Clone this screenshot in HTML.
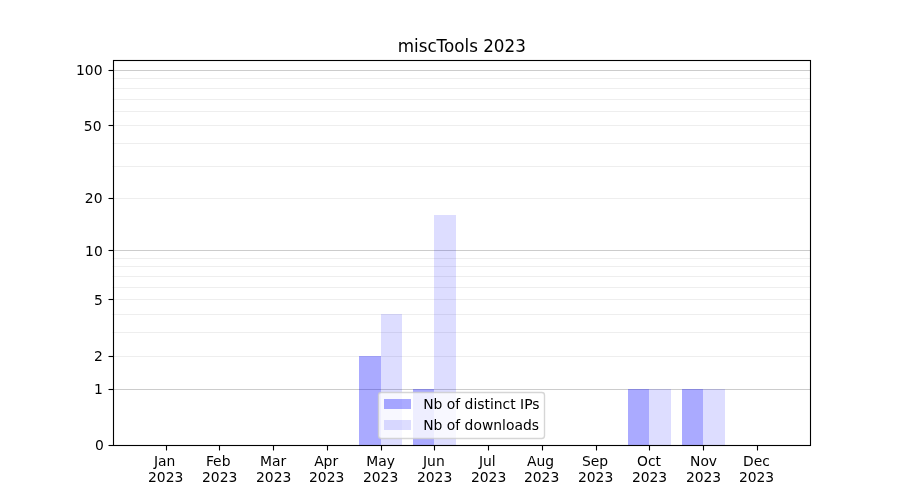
<!DOCTYPE html>
<html lang="en"><head><meta charset="utf-8"><title>miscTools 2023</title>
<style>
html,body{margin:0;padding:0;background:#fff;}
body{width:900px;height:500px;overflow:hidden;}
svg{display:block;}
text{font-family:"DejaVu Sans", "Liberation Sans", sans-serif;fill:#000;}
.t{font-size:13.889px;}
.h{font-size:16.750px;}
</style></head><body>
<svg width="900" height="500" viewBox="0 0 900 500">
<rect x="0" y="0" width="900" height="500" fill="#ffffff"/>
<g stroke-width="1.111" fill="none">
<line x1="112.5" x2="810" y1="70.5" y2="70.5" stroke="#cccccc"/>
<line x1="112.5" x2="810" y1="78.5" y2="78.5" stroke="#eeeeee"/>
<line x1="112.5" x2="810" y1="88.5" y2="88.5" stroke="#eeeeee"/>
<line x1="112.5" x2="810" y1="99.5" y2="99.5" stroke="#eeeeee"/>
<line x1="112.5" x2="810" y1="111.5" y2="111.5" stroke="#eeeeee"/>
<line x1="112.5" x2="810" y1="125.5" y2="125.5" stroke="#eeeeee"/>
<line x1="112.5" x2="810" y1="143.5" y2="143.5" stroke="#eeeeee"/>
<line x1="112.5" x2="810" y1="166.5" y2="166.5" stroke="#eeeeee"/>
<line x1="112.5" x2="810" y1="198.5" y2="198.5" stroke="#eeeeee"/>
<line x1="112.5" x2="810" y1="250.5" y2="250.5" stroke="#cccccc"/>
<line x1="112.5" x2="810" y1="258.5" y2="258.5" stroke="#eeeeee"/>
<line x1="112.5" x2="810" y1="266.5" y2="266.5" stroke="#eeeeee"/>
<line x1="112.5" x2="810" y1="276.5" y2="276.5" stroke="#eeeeee"/>
<line x1="112.5" x2="810" y1="287.5" y2="287.5" stroke="#eeeeee"/>
<line x1="112.5" x2="810" y1="299.5" y2="299.5" stroke="#eeeeee"/>
<line x1="112.5" x2="810" y1="314.5" y2="314.5" stroke="#eeeeee"/>
<line x1="112.5" x2="810" y1="332.5" y2="332.5" stroke="#eeeeee"/>
<line x1="112.5" x2="810" y1="356.5" y2="356.5" stroke="#eeeeee"/>
<line x1="112.5" x2="810" y1="389.5" y2="389.5" stroke="#cccccc"/>
</g>
<rect x="359" y="356" width="22" height="89" fill="#0000ff" fill-opacity="0.3333"/>
<rect x="381" y="314" width="21" height="131" fill="#0000ff" fill-opacity="0.1333"/>
<rect x="413" y="389" width="21" height="56" fill="#0000ff" fill-opacity="0.3333"/>
<rect x="434" y="215" width="22" height="230" fill="#0000ff" fill-opacity="0.1333"/>
<rect x="628" y="389" width="21" height="56" fill="#0000ff" fill-opacity="0.3333"/>
<rect x="649" y="389" width="22" height="56" fill="#0000ff" fill-opacity="0.1333"/>
<rect x="682" y="389" width="21" height="56" fill="#0000ff" fill-opacity="0.3333"/>
<rect x="703" y="389" width="22" height="56" fill="#0000ff" fill-opacity="0.1333"/>
<g stroke="#000000" stroke-width="1.111" fill="none">
<line x1="166.5" x2="166.5" y1="445" y2="450.5"/>
<line x1="219.5" x2="219.5" y1="445" y2="450.5"/>
<line x1="273.5" x2="273.5" y1="445" y2="450.5"/>
<line x1="327.5" x2="327.5" y1="445" y2="450.5"/>
<line x1="381.5" x2="381.5" y1="445" y2="450.5"/>
<line x1="434.5" x2="434.5" y1="445" y2="450.5"/>
<line x1="488.5" x2="488.5" y1="445" y2="450.5"/>
<line x1="542.5" x2="542.5" y1="445" y2="450.5"/>
<line x1="596.5" x2="596.5" y1="445" y2="450.5"/>
<line x1="649.5" x2="649.5" y1="445" y2="450.5"/>
<line x1="703.5" x2="703.5" y1="445" y2="450.5"/>
<line x1="757.5" x2="757.5" y1="445" y2="450.5"/>
<line x1="108.5" x2="113" y1="445.5" y2="445.5"/>
<line x1="108.5" x2="113" y1="389.5" y2="389.5"/>
<line x1="108.5" x2="113" y1="356.5" y2="356.5"/>
<line x1="108.5" x2="113" y1="299.5" y2="299.5"/>
<line x1="108.5" x2="113" y1="250.5" y2="250.5"/>
<line x1="108.5" x2="113" y1="198.5" y2="198.5"/>
<line x1="108.5" x2="113" y1="125.5" y2="125.5"/>
<line x1="108.5" x2="113" y1="70.5" y2="70.5"/>
<rect x="113.5" y="60.5" width="697" height="385"/>
</g>
<g class="t">
<text x="153.99" y="466.28">Jan</text>
<text x="148.03" y="481.83">2023</text>
<text x="205.89" y="466.28">Feb</text>
<text x="202.01" y="481.83">2023</text>
<text x="260.07" y="466.28">Mar</text>
<text x="256.00" y="481.83">2023</text>
<text x="314.14" y="466.28">Apr</text>
<text x="308.99" y="481.83">2023</text>
<text x="366.29" y="466.28">May</text>
<text x="362.97" y="481.83">2023</text>
<text x="423.03" y="466.28">Jun</text>
<text x="416.96" y="481.83">2023</text>
<text x="478.99" y="466.28">Jul</text>
<text x="470.94" y="481.83">2023</text>
<text x="527.04" y="466.28">Aug</text>
<text x="523.93" y="481.83">2023</text>
<text x="582.00" y="466.28">Sep</text>
<text x="577.92" y="481.83">2023</text>
<text x="637.07" y="466.28">Oct</text>
<text x="631.90" y="481.83">2023</text>
<text x="690.01" y="466.28">Nov</text>
<text x="685.89" y="481.83">2023</text>
<text x="743.11" y="466.28">Dec</text>
<text x="738.88" y="481.83">2023</text>
<text x="103.78" y="450.28" text-anchor="end">0</text>
<text x="102.78" y="394.28" text-anchor="end">1</text>
<text x="102.78" y="361.28" text-anchor="end">2</text>
<text x="102.78" y="305.28" text-anchor="end">5</text>
<text x="102.78" y="256.28" text-anchor="end">10</text>
<text x="102.53" y="203.28" text-anchor="end">20</text>
<text x="101.53" y="131.28" text-anchor="end">50</text>
<text x="102.53" y="75.28" text-anchor="end">100</text>
</g>
<text class="h" x="461.75" y="51.67" text-anchor="middle">miscTools 2023</text>
<rect x="378.5" y="392.5" width="166" height="46" rx="2.78" ry="2.78" fill="#ffffff" fill-opacity="0.8" stroke="#cccccc" stroke-opacity="0.8" stroke-width="1.389"/>
<rect x="384" y="399" width="27" height="10" fill="#0000ff" fill-opacity="0.3333"/>
<rect x="384" y="420" width="27" height="10" fill="#0000ff" fill-opacity="0.1333"/>
<g class="t">
<text x="423.24" y="409.23">Nb of distinct IPs</text>
<text x="423.24" y="429.61">Nb of downloads</text>
</g>
</svg>
</body></html>
